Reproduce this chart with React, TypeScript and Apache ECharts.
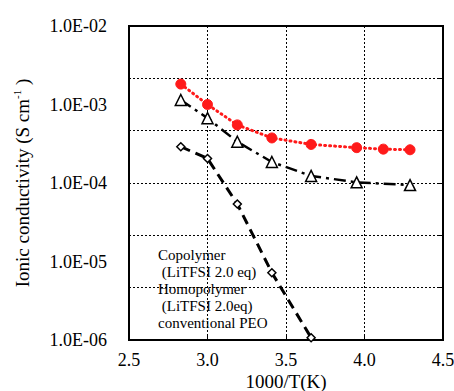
import React, { useEffect, useRef } from "react";
import * as echarts from "echarts";

const invT = [2.83, 3.0, 3.19, 3.41, 3.66, 3.95, 4.12, 4.29];
const copolymer = [1.82e-3, 1.0e-3, 5.5e-4, 3.75e-4, 3.1e-4, 2.82e-4, 2.7e-4, 2.65e-4];
const homoX = [2.83, 3.0, 3.19, 3.41, 3.66, 3.95, 4.29];
const homopolymer = [1.14e-3, 6.7e-4, 3.35e-4, 1.85e-4, 1.23e-4, 1.02e-4, 9.4e-5];
const peoX = [2.83, 3.0, 3.19, 3.41, 3.66];
const peo = [2.9e-4, 2.05e-4, 5.4e-5, 7.2e-6, 1.07e-6];
const legendLines = ["Copolymer", " (LiTFSI 2.0 eq)", "Homopolymer", " (LiTFSI 2.0eq)", "conventional PEO"];

const FONT = "'Liberation Serif', 'DejaVu Serif', serif";

function pairs(xs: number[], ys: number[]) {
  return xs.map((x, i) => [x, ys[i]]);
}

export default function App() {
  const ref = useRef<HTMLDivElement>(null);
  useEffect(() => {
    if (!ref.current) return;
    const chart = echarts.init(ref.current, null, { renderer: "svg" });
    const dotted = { color: "#000", width: 1, type: [2, 2] as any };
    chart.setOption({
      animation: false,
      backgroundColor: "#fff",
      textStyle: { fontFamily: FONT },
      grid: {
        left: 129, top: 26, right: 11, bottom: 51,
        containLabel: false,
        outerBoundsMode: "none",
        show: true, borderColor: "#000", borderWidth: 2, backgroundColor: "transparent",
      },
      xAxis: [
        {
          type: "value",
          min: 2.5,
          max: 4.5,
          interval: 0.5,
          axisLine: { lineStyle: { color: "#000", width: 2 } },
          axisTick: { inside: true, length: 4, lineStyle: { color: "#000" } },
          splitLine: { show: true, lineStyle: dotted },
          axisLabel: { color: "#000", fontSize: 18, lineHeight: 18, fontFamily: FONT, margin: 11, formatter: (v: number) => v.toFixed(1) },
          name: "1000/T(K)",
          nameLocation: "middle",
          nameGap: 31,
          nameMoveOverlap: false,
          nameTextStyle: { color: "#000", fontSize: 19, fontFamily: FONT, verticalAlign: "top", lineHeight: 20 },
        },
      ],
      yAxis: [
        {
          type: "log",
          logBase: 10,
          min: 1e-6,
          max: 1e-2,
          axisLine: { show: true, lineStyle: { color: "#000", width: 2 } },
          axisTick: { show: false },
          splitLine: { show: false },
          axisLabel: {
            color: "#000",
            fontSize: 18,
            fontFamily: FONT,
            margin: 22,
            padding: [0, 0, 7, 0],
            formatter: (v: number) => {
              const e = Math.round(Math.log10(v));
              const a = Math.abs(e);
              return "1.0E" + (e < 0 ? "-" : "+") + (a < 10 ? "0" + a : "" + a);
            },
          },
          name: "{n|Ionic conductivity (S cm}{s|-1}{n| )}",
          nameLocation: "middle",
          nameGap: 96,
          nameMoveOverlap: false,
          nameTextStyle: {
            color: "#000",
            fontFamily: FONT,
            rich: {
              n: { fontSize: 19, fontFamily: FONT, color: "#000", lineHeight: 22 },
              s: { fontSize: 11, fontFamily: FONT, color: "#000", verticalAlign: "top", lineHeight: 22, padding: [0, 0, 10, 0] },
            },
          },
        },
        {
          type: "value",
          min: 0,
          max: 6,
          interval: 1,
          position: "right",
          axisLine: { show: true, lineStyle: { color: "#000", width: 2 } },
          axisTick: { show: true, inside: true, length: 4, lineStyle: { color: "#000" } },
          axisLabel: { show: false },
          splitLine: { show: true, lineStyle: dotted },
        },
      ],
      series: [
        {
          type: "line",
          name: "Copolymer",
          data: pairs(invT, copolymer),
          symbol: "circle",
          symbolSize: 10,
          itemStyle: { color: "#ff1a1a", borderColor: "#ff1a1a" },
          lineStyle: { color: "#ff1a1a", width: 3, type: [1, 4] as any, cap: "round" },
          z: 5,
        },
        {
          type: "line",
          name: "Homopolymer",
          data: pairs(homoX, homopolymer),
          symbol: "triangle",
          symbolSize: 11,
          itemStyle: { color: "#fff", borderColor: "#000", borderWidth: 1.5 },
          lineStyle: { color: "#000", width: 2.5, type: [12, 5, 3, 5] as any },
          z: 4,
        },
        {
          type: "line",
          name: "PEO",
          data: pairs(peoX, peo),
          symbol: "diamond",
          symbolSize: 8,
          itemStyle: { color: "#fff", borderColor: "#000", borderWidth: 1.5 },
          lineStyle: { color: "#000", width: 3, type: [10, 6] as any },
          z: 3,
        },
      ],
      graphic: [
        {
          type: "text",
          left: 158,
          top: 246,
          z: 10,
          style: {
            text: legendLines.join("\n"),
            fontFamily: FONT,
            fontSize: 15,
            lineHeight: 17,
            fill: "#000",
          },
        },
      ],
    });
    return () => chart.dispose();
  }, []);
  return <div ref={ref} style={{ width: 454, height: 391, position: "absolute", left: 0, top: 0 }} />;
}
